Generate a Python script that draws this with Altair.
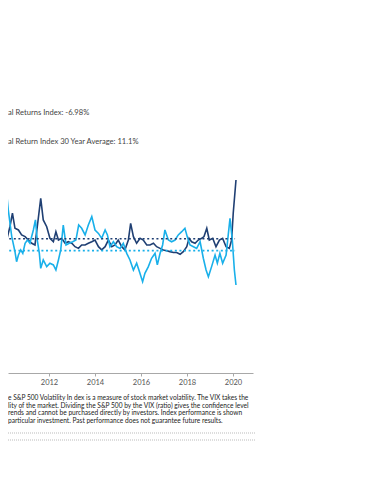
import altair as alt
import pandas as pd

# decimal-year positions and values
ratio_years = [2009.87, 2010.01, 2010.16, 2010.30, 2010.41, 2010.52, 2010.67, 2010.81, 2010.96,
               2011.10, 2011.25, 2011.39, 2011.49, 2011.64, 2011.75, 2011.90, 2012.04, 2012.19,
               2012.30, 2012.41, 2012.55, 2012.70, 2012.84, 2012.99, 2013.13, 2013.28, 2013.42,
               2013.57, 2013.71, 2013.86, 2014.00, 2014.15, 2014.29, 2014.44, 2014.58, 2014.73,
               2014.87, 2015.01, 2015.16, 2015.30, 2015.45, 2015.55, 2015.67, 2015.81, 2015.96,
               2016.10, 2016.25, 2016.39, 2016.54, 2016.68, 2016.83, 2016.97, 2017.12, 2017.26,
               2017.41, 2017.55, 2017.70, 2017.84, 2017.99, 2018.09, 2018.20, 2018.35, 2018.49,
               2018.64, 2018.74, 2018.86, 2018.97, 2019.12, 2019.26, 2019.41, 2019.55, 2019.70,
               2019.84, 2019.94, 2020.01, 2020.13]
ratio_values = [22.0, 17.6, 16.7, 23.7, 30.8, 22.9, 22.0, 19.4, 18.5,
                16.7, 15.0, 14.1, 23.7, 38.6, 27.3, 23.7, 17.6, 15.8,
                21.1, 16.7, 17.6, 15.0, 15.8, 15.0, 13.2, 12.3, 14.1,
                14.1, 15.0, 15.8, 16.7, 13.2, 11.5, 13.2, 16.7, 13.2,
                14.1, 16.7, 13.2, 11.5, 16.7, 25.5, 18.5, 15.0, 17.6,
                16.7, 14.1, 14.1, 15.0, 13.2, 12.3, 11.5, 11.1, 10.6,
                10.1, 10.1, 9.2, 10.6, 13.2, 17.6, 15.8, 15.0, 16.7,
                17.6, 18.5, 22.9, 16.7, 17.6, 13.2, 16.7, 17.6, 13.2,
                12.3, 16.7, 30.8, 48.3]

real_years = [2009.87, 2010.04, 2010.13, 2010.23, 2010.38, 2010.52, 2010.59, 2010.67, 2010.77,
              2010.86, 2010.96, 2011.06, 2011.17, 2011.32, 2011.41, 2011.49, 2011.58, 2011.64,
              2011.75, 2011.90, 2012.04, 2012.19, 2012.30, 2012.41, 2012.51, 2012.62, 2012.74,
              2012.88, 2013.03, 2013.17, 2013.29, 2013.42, 2013.57, 2013.71, 2013.86, 2014.00,
              2014.15, 2014.29, 2014.44, 2014.54, 2014.65, 2014.80, 2014.94, 2015.09, 2015.23,
              2015.38, 2015.52, 2015.67, 2015.81, 2015.93, 2016.07, 2016.17, 2016.32, 2016.46,
              2016.61, 2016.71, 2016.83, 2016.94, 2017.04, 2017.19, 2017.33, 2017.48, 2017.62,
              2017.77, 2017.91, 2018.01, 2018.13, 2018.28, 2018.42, 2018.57, 2018.71, 2018.83,
              2018.93, 2019.07, 2019.22, 2019.32, 2019.43, 2019.55, 2019.70, 2019.80, 2019.87,
              2019.97, 2020.06, 2020.13]
real_values = [25.5, 44.8, 44.8, 32.5, 18.5, 10.6, 5.3, 8.8, 11.5,
               9.7, 15.0, 16.7, 15.0, 22.0, 27.3, 16.7, 9.7, 1.8,
               6.2, 2.7, 4.5, 3.6, 0.9, 6.2, 11.5, 24.6, 14.1,
               15.0, 15.8, 16.7, 24.6, 22.9, 19.4, 24.6, 29.0, 22.0,
               20.2, 17.6, 22.0, 19.4, 13.2, 15.8, 13.2, 12.3, 15.0,
               9.7, 6.2, 0.9, 4.5, 0.1, -5.2, -0.8, 2.7, 7.1,
               9.7, 3.6, 9.7, 14.1, 22.0, 16.7, 15.8, 16.7, 19.4,
               21.1, 22.9, 18.5, 14.1, 13.2, 12.3, 15.8, 7.1, 0.9,
               -2.6, 2.7, 8.8, 4.5, 9.7, 4.5, 8.8, 20.2, 28.1,
               16.7, 0.9, -6.98]

series_names = ["Ratio", "Real Returns Index"]
series_colors = ["#1f3f73", "#19b0ea"]
avg_values = [17.4, 11.1]
avg_start = 2009.87
avg_end = 2020.09

tick_years = [2012, 2014, 2016, 2018, 2020]

legend_lines = ["al Returns Index: -6.98%",
                "al Return Index 30 Year Average: 11.1%"]
footnote_lines = [
    "e S&P 500 Volatility In dex is a measure of stock market volatility. The VIX takes the",
    "lity of the market. Dividing the S&P 500 by the VIX (ratio) gives the confidence level",
    "rends and cannot be purchased directly by investors. Index performance is shown",
    " particular investment. Past performance does not guarantee future results.",
]

FONT = "Lato"

df = pd.concat([
    pd.DataFrame({"year": ratio_years, "value": ratio_values, "series": series_names[0]}),
    pd.DataFrame({"year": real_years, "value": real_values, "series": series_names[1]}),
])
avg_df = pd.DataFrame({"series": series_names, "value": avg_values,
                       "x1": [avg_start] * 2, "x2": [avg_end] * 2})

xscale = alt.Scale(domain=[2010.217, 2020.87], nice=False, zero=False)
yscale = alt.Scale(domain=[-53.3, 64.1], nice=False, zero=False)
cscale = alt.Scale(domain=series_names, range=series_colors)

lines = alt.Chart(df).mark_line(strokeWidth=1.6, clip=True).encode(
    x=alt.X("year:Q", scale=xscale,
            axis=alt.Axis(values=tick_years, format="d", title=None, grid=False,
                          domainColor="#a8a8a8", tickColor="#a8a8a8", tickSize=3,
                          labelColor="#555555", labelFont=FONT, labelFontSize=7.5,
                          labelPadding=2)),
    y=alt.Y("value:Q", scale=yscale, axis=None),
    color=alt.Color("series:N", scale=cscale, legend=None),
    detail="series:N",
)

avgs = alt.Chart(avg_df).mark_rule(strokeWidth=1.6, strokeDash=[2, 2.6], clip=True).encode(
    x=alt.X("x1:Q", scale=xscale),
    x2="x2:Q",
    y=alt.Y("value:Q", scale=yscale),
    color=alt.Color("series:N", scale=cscale, legend=None),
)

leg_df = pd.DataFrame({"t": legend_lines, "py": [-37, -8]})
legend_text = alt.Chart(leg_df).mark_text(
    align="left", baseline="middle", font=FONT, fontSize=7.6, color="#444444"
).encode(x=alt.value(0), y=alt.Y("py:Q", scale=None), text="t:N")

foot_df = pd.DataFrame({"t": footnote_lines, "py": [248, 255.5, 263, 270.5]})
foot_text = alt.Chart(foot_df).mark_text(
    align="left", baseline="middle", font=FONT, fontSize=6.6, color="#222222"
).encode(x=alt.value(0), y=alt.Y("py:Q", scale=None), text="t:N")

sep_df = pd.DataFrame({"py": [283, 290]})
seps = alt.Chart(sep_df).mark_rule(color="#bbbbbb", strokeDash=[1, 1], strokeWidth=1).encode(
    x=alt.value(0), x2=alt.value(247), y=alt.Y("py:Q", scale=None)
)

chart = alt.layer(lines, avgs, legend_text, foot_text, seps).properties(
    width=245, height=223,
    autosize=alt.AutoSizeParams(type="none"),
    padding={"left": 0, "top": 142, "right": 105, "bottom": 95},
    background="white",
).configure_view(stroke=None)

chart.save("out.html", embed_options={"renderer": "svg", "actions": False})
